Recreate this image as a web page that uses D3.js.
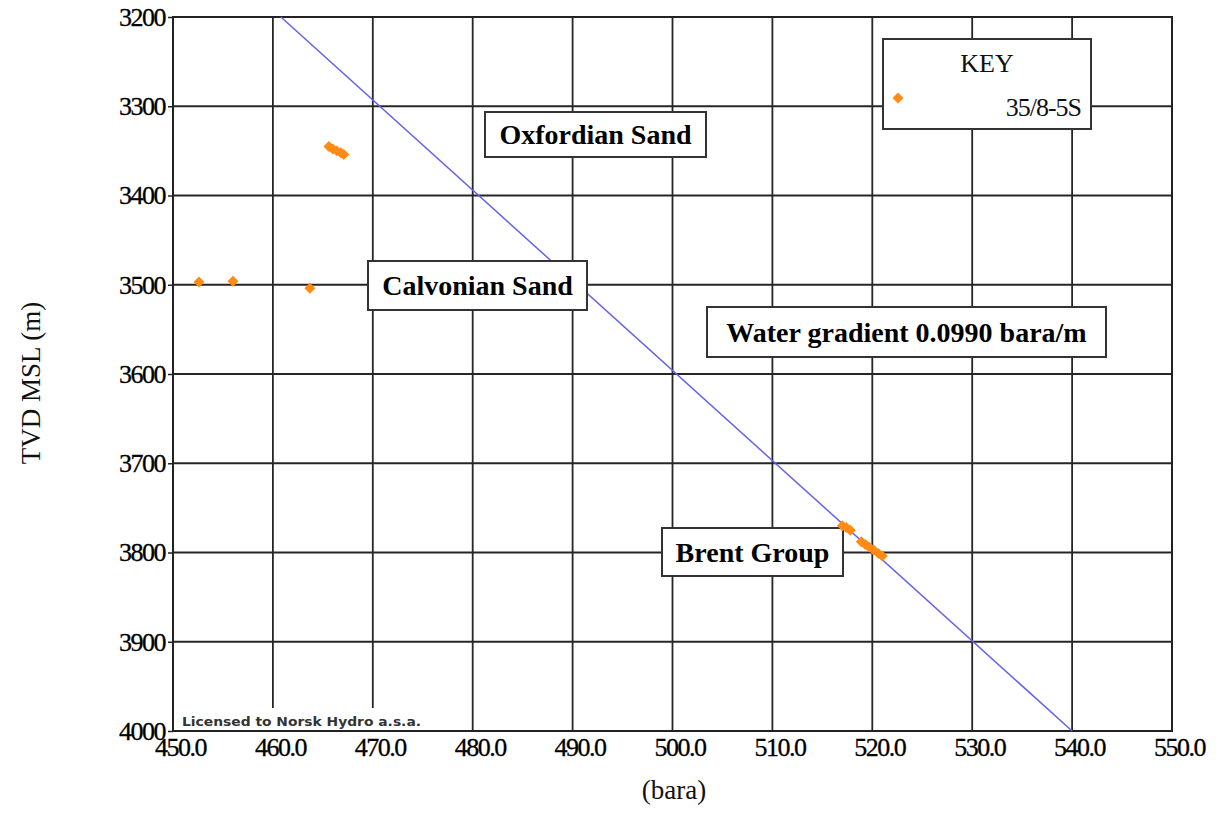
<!DOCTYPE html>
<html>
<head>
<meta charset="utf-8">
<script src="https://cdn.jsdelivr.net/npm/d3@7"></script>
<style>
  html, body { margin: 0; padding: 0; background: #fff; }
  svg { display: block; }
</style>
</head>
<body>
<svg id="chart" width="1223" height="814"></svg>
<script>
// ---------- data ----------
const xTicks = [450, 460, 470, 480, 490, 500, 510, 520, 530, 540, 550];
const yTicks = [3200, 3300, 3400, 3500, 3600, 3700, 3800, 3900, 4000];
const xTickLabels = ["450.0","460.0","470.0","480.0","490.0","500.0","510.0","520.0","530.0","540.0","550.0"];
const yTickLabels = ["3200","3300","3400","3500","3600","3700","3800","3900","4000"];

// pressure (bara) and depth TVD MSL (m) for well 35/8-5S
const pressure = [465.6, 466.0, 466.4, 466.8, 467.1, 452.6, 456.0, 463.7, 517.0, 517.4, 517.8, 518.9, 519.3, 519.7, 520.1, 520.6, 521.0];
const depth    = [3345, 3348, 3350, 3352, 3354, 3497, 3496, 3504, 3770, 3772, 3775, 3788, 3791, 3794, 3797, 3801, 3804];

// water gradient line
const gradient = 0.0990;          // bara/m
const gradientRefPressure = 540;  // bara at reference depth
const gradientRefDepth = 4000;    // m
const gradientDepths = [3200, 4000];

const zoneLabels = ["Oxfordian Sand", "Calvonian Sand", "Water gradient 0.0990 bara/m", "Brent Group"];
const keyTitle = "KEY";
const seriesName = "35/8-5S";
const xTitle = "(bara)";
const yTitle = "TVD MSL (m)";
const licence = "Licensed to Norsk Hydro a.s.a.";

// ---------- layout ----------
const L = 173, R = 1172, T = 17, B = 731;
const serif = "'Liberation Serif', 'Times New Roman', serif";
const orange = "#ff8a14";
const labelBoxes = [
  {x0: 485, y0: 112, x1: 706, y1: 157},
  {x0: 368, y0: 261, x1: 587, y1: 310},
  {x0: 707, y0: 307, x1: 1106, y1: 357},
  {x0: 662, y0: 528, x1: 843, y1: 576}
];

const svg = d3.select("#chart");
const x = d3.scaleLinear().domain([450, 550]).range([L, R]);
const y = d3.scaleLinear().domain([3200, 4000]).range([T, B]);

// grid
const grid = svg.append("g").attr("stroke", "#262626").attr("stroke-width", 1.8);
grid.selectAll("line.v").data(xTicks.slice(1, -1)).enter().append("line")
  .attr("x1", d => x(d)).attr("x2", d => x(d))
  .attr("y1", T).attr("y2", B);
grid.selectAll("line.h").data(yTicks.slice(1, -1)).enter().append("line")
  .attr("x1", L).attr("x2", R)
  .attr("y1", d => y(d)).attr("y2", d => y(d));

// licence patch
svg.append("rect").attr("x", L + 1).attr("y", 708).attr("width", 252).attr("height", B - 708 - 1).attr("fill", "#fff");
svg.append("text").attr("x", 182).attr("y", 726)
  .attr("font-family", "'DejaVu Sans', Verdana, sans-serif").attr("font-size", 13).attr("font-weight", "bold")
  .attr("fill", "#333").attr("textLength", 239).attr("lengthAdjust", "spacingAndGlyphs")
  .text(licence);

// frame
svg.append("rect").attr("x", L).attr("y", T).attr("width", R - L).attr("height", B - T)
  .attr("fill", "none").attr("stroke", "#222").attr("stroke-width", 2);

// axes
const yAxis = d3.axisLeft(y).tickValues(yTicks).tickFormat((d, i) => yTickLabels[i]).tickSize(5).tickPadding(3);
const gy = svg.append("g").attr("transform", `translate(${L},0)`).call(yAxis);
gy.select(".domain").remove();
gy.selectAll(".tick line").attr("stroke", "#222").attr("stroke-width", 1.5);
gy.selectAll(".tick text").attr("font-family", serif).attr("font-size", 26)
  .attr("letter-spacing", "-1.5").attr("fill", "#000").attr("stroke", "#000").attr("stroke-width", 0.3);

const xAxis = d3.axisBottom(x).tickValues(xTicks).tickFormat((d, i) => xTickLabels[i]).tickSize(0).tickPadding(7);
const gx = svg.append("g").attr("transform", `translate(0,${B})`).call(xAxis);
gx.select(".domain").remove();
gx.selectAll(".tick text").attr("font-family", serif).attr("font-size", 26)
  .attr("letter-spacing", "-1.5").attr("dx", 7).attr("fill", "#000").attr("stroke", "#000").attr("stroke-width", 0.3);

svg.append("text").attr("x", 674).attr("y", 799).attr("text-anchor", "middle")
  .attr("font-family", serif).attr("font-size", 27).attr("fill", "#111").text(xTitle);
svg.append("text").attr("transform", "translate(40,383) rotate(-90)").attr("text-anchor", "middle")
  .attr("font-family", serif).attr("font-size", 27).attr("fill", "#111").text(yTitle);

// gradient line
const line = d3.line()
  .x(d => x(gradientRefPressure - (gradientRefDepth - d) * gradient))
  .y(d => y(d));
svg.append("path").datum(gradientDepths).attr("d", line)
  .attr("fill", "none").attr("stroke", "#6262ee").attr("stroke-width", 1.5);

// label boxes
zoneLabels.forEach((t, i) => {
  const b = labelBoxes[i];
  svg.append("rect").attr("x", b.x0).attr("y", b.y0).attr("width", b.x1 - b.x0).attr("height", b.y1 - b.y0)
    .attr("fill", "#fff").attr("stroke", "#333").attr("stroke-width", 2);
  svg.append("text").attr("x", (b.x0 + b.x1) / 2).attr("y", (b.y0 + b.y1) / 2)
    .attr("dy", "0.35em").attr("text-anchor", "middle")
    .attr("font-family", serif).attr("font-weight", "bold").attr("font-size", 28)
    .attr("fill", "#000").text(t);
});

// data points (rotated squares)
const sym = d3.symbol().type(d3.symbolSquare).size(60);
svg.append("g").selectAll("path").data(pressure.map((p, i) => [p, depth[i]])).enter().append("path")
  .attr("d", sym).attr("fill", orange)
  .attr("transform", d => `translate(${x(d[0])},${y(d[1])}) rotate(45)`);

// key
svg.append("rect").attr("x", 883).attr("y", 39).attr("width", 208).attr("height", 90)
  .attr("fill", "#fff").attr("stroke", "#333").attr("stroke-width", 2);
svg.append("text").attr("x", 987).attr("y", 63).attr("dy", "0.35em").attr("text-anchor", "middle")
  .attr("font-family", serif).attr("font-size", 26).attr("fill", "#111").text(keyTitle);
svg.append("path").attr("d", sym).attr("fill", orange).attr("transform", "translate(898,98) rotate(45)");
svg.append("text").attr("x", 1081).attr("y", 107).attr("dy", "0.35em").attr("text-anchor", "end")
  .attr("font-family", serif).attr("font-size", 26).attr("letter-spacing", "-1").attr("fill", "#111").text(seriesName);
</script>
</body>
</html>
